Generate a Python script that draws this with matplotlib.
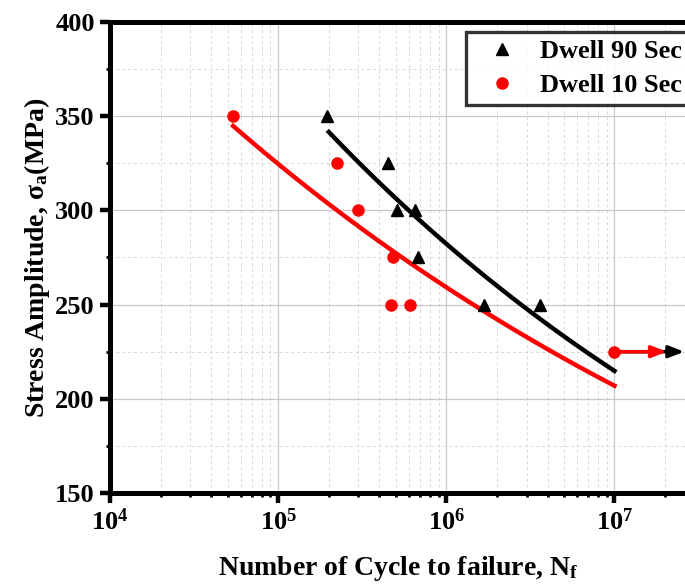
import numpy as np
import matplotlib.pyplot as plt
from matplotlib.ticker import FixedLocator, LogLocator, MultipleLocator, NullFormatter

plt.rcParams['font.family'] = ['Liberation Serif', 'DejaVu Serif']
plt.rcParams['font.weight'] = 'bold'
plt.rcParams['mathtext.fontset'] = 'custom'
plt.rcParams['mathtext.rm'] = 'Liberation Serif:bold'
plt.rcParams['mathtext.it'] = 'Liberation Serif:bold'
plt.rcParams['mathtext.bf'] = 'Liberation Serif:bold'

# Dwell 90 s data (cycles, stress MPa)
n_90 = [1.95e5, 4.5e5, 5.1e5, 6.5e5, 6.8e5, 1.67e6, 3.6e6]
s_90 = [350, 325, 300, 300, 275, 250, 250]
# Dwell 10 s data
n_10 = [5.4e4, 2.24e5, 3.0e5, 4.8e5, 4.7e5, 6.1e5]
s_10 = [350, 325, 300, 275, 250, 250]

# run-outs: start, arrow end, stress
runout_90 = (1e7, 2.6e7, 225)
runout_10 = (1e7, 2.05e7, 225)

# Basquin fits S = A * N^b, range of N
fit_90 = dict(A=1453, b=-0.1186, n0=2.0e5, n1=1e7)
fit_10 = dict(A=1001, b=-0.0978, n0=5.4e4, n1=1e7)

x_major = [1e4, 1e5, 1e6, 1e7]

fig = plt.figure(figsize=(6.85, 5.86), dpi=100)
ax = fig.add_axes([110 / 685, 93 / 586, 577 / 685, 471 / 586])

for fit, c in [(fit_90, 'black'), (fit_10, 'red')]:
    nn = np.logspace(np.log10(fit['n0']), np.log10(fit['n1']), 100)
    ax.plot(nn, fit['A'] * nn ** fit['b'], color=c, lw=3.2, zorder=3)

ax.plot(n_90, s_90, '^', color='black', ms=9, label='Dwell 90 Sec', zorder=4)
ax.plot(n_10, s_10, 'o', color='red', ms=8, label='Dwell 10 Sec', zorder=4)

for r, c, z in [(runout_90, 'black', 4), (runout_10, 'red', 5)]:
    ax.annotate('', xy=(r[1], r[2]), xytext=(r[0], r[2]),
                arrowprops=dict(arrowstyle='-|>,head_length=0.9,head_width=0.35',
                                color=c, lw=2.5, shrinkA=0, shrinkB=0), zorder=z)
ax.plot([runout_10[0]], [runout_10[2]], 'o', color='red', ms=8, zorder=6)

ax.set_xscale('log')
ax.set_xlim(1e4, 2.7e7)
ax.set_ylim(150, 400)
ax.yaxis.set_major_locator(MultipleLocator(50))
ax.yaxis.set_minor_locator(MultipleLocator(25))
ax.xaxis.set_major_locator(FixedLocator(x_major))
ax.xaxis.set_minor_locator(LogLocator(base=10, subs=np.arange(2, 10), numticks=20))
ax.xaxis.set_minor_formatter(NullFormatter())

ax.grid(which='major', color='#c8c8c8', lw=0.9, ls='-')
ax.grid(which='minor', color='#d8d8d8', lw=0.7, ls=(0, (3, 3)))
ax.set_axisbelow(True)

for s in ax.spines.values():
    s.set_linewidth(3.6)
ax.tick_params(which='major', direction='out', length=7, width=3.2, labelsize=19, pad=4)
ax.tick_params(which='minor', direction='out', length=3, width=2)
ax.tick_params(top=False, right=False)
for lab in ax.get_yticklabels():
    lab.set_fontweight('bold')

ax.set_xlabel(r'Number of Cycle to failure, N$_\mathregular{f}$', fontsize=20,
              fontweight='bold', labelpad=14)
ax.set_ylabel(r'Stress Amplitude, $\mathregular{\sigma_a}$(MPa)', fontsize=20,
              fontweight='bold', labelpad=2)

leg = ax.legend(loc='upper left', bbox_to_anchor=(466 / 685, 1 - 32 / 586),
                bbox_transform=fig.transFigure, frameon=True, borderaxespad=0,
                fancybox=False, borderpad=0.3, handletextpad=0.35, labelspacing=0.4,
                handlelength=2.15, prop={'weight': 'bold', 'size': 19})
leg.get_frame().set_edgecolor('black')
leg.get_frame().set_linewidth(2.4)

fig.savefig('out.png', dpi=100)
